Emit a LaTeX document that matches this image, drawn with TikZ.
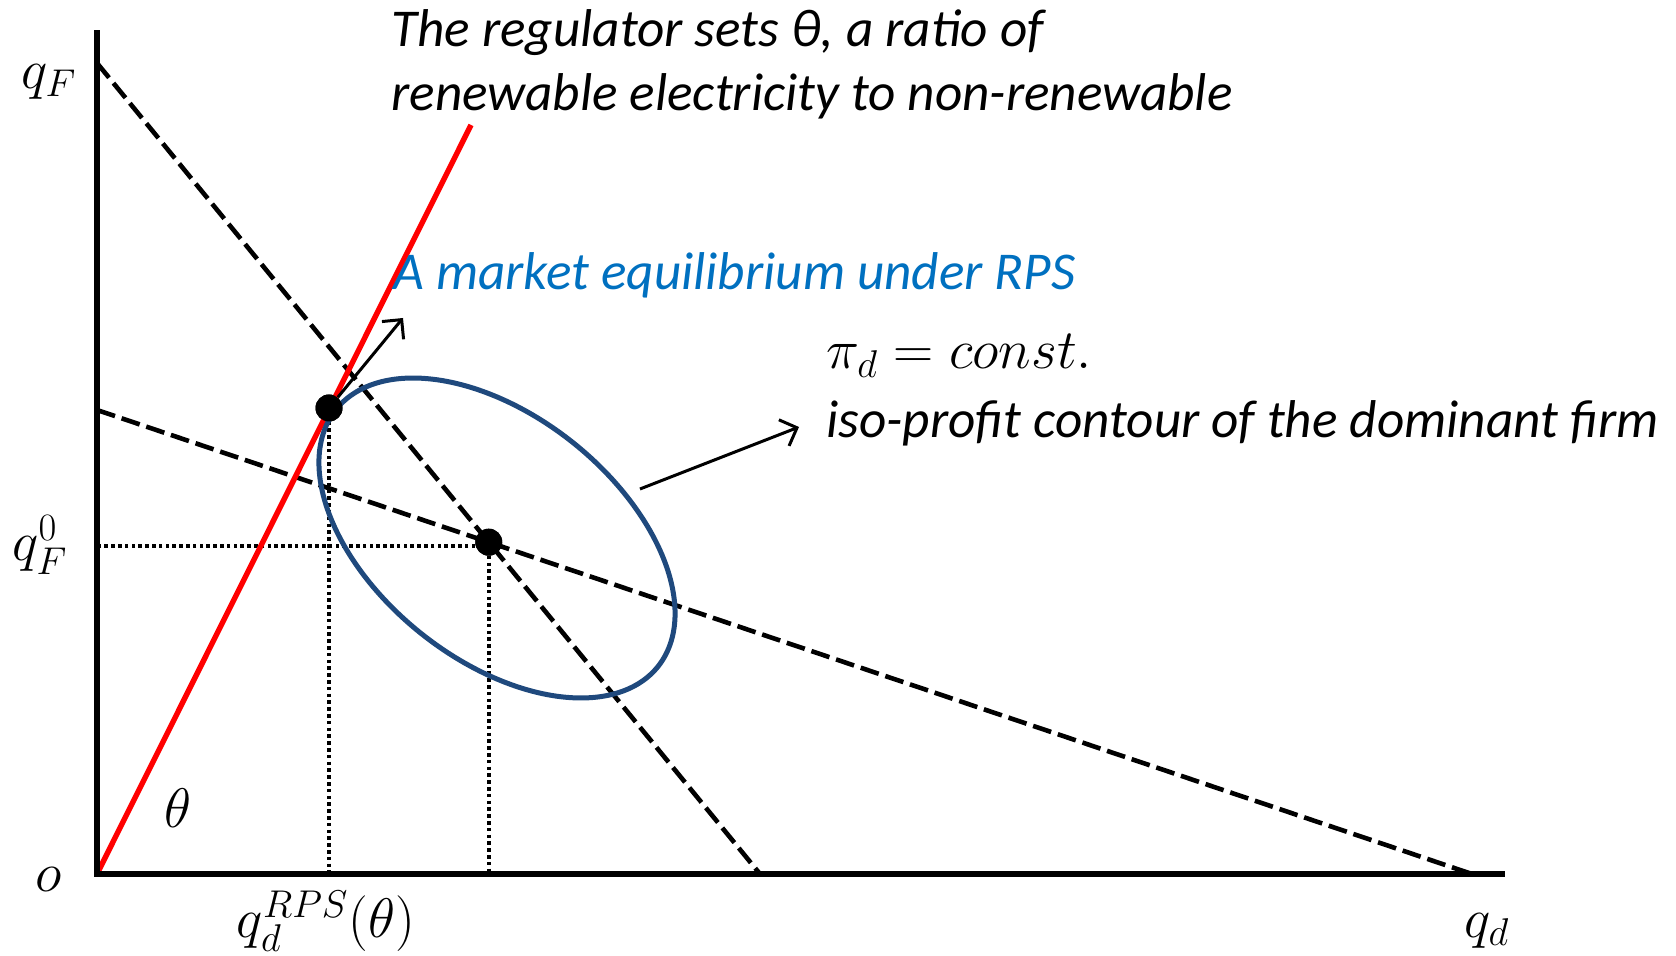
\documentclass[tikz,border=0pt]{standalone}
\usepackage{fontspec}
\setmainfont{Carlito}
\usetikzlibrary{arrows.meta}
\definecolor{rpsred}{RGB}{255,0,0}
\definecolor{eqblue}{RGB}{0,112,192}
\definecolor{contourblue}{RGB}{31,73,125}
\newcommand{\bigmath}[1]{\scalebox{1.12}{$#1$}}
\begin{document}
\begin{tikzpicture}[x=0.5pt,y=-0.5pt,
  axis/.style={line width=2.75pt, line cap=rect},
  guide/.style={line width=2.3pt, dash pattern=on 9.5pt off 3.5pt},
  dropline/.style={line width=1.9pt, dash pattern=on 1.8pt off 1.6pt},
  ratio/.style={line width=2.7pt, rpsred},
  contour/.style={line width=2.5pt, contourblue},
  eqpoint/.style={circle, fill=black, inner sep=0pt, minimum size=13.5pt},
  pointer/.style={line width=1.5pt, -{Straight Barb[length=7pt,width=14pt]}},
  lbl/.style={font=\fontsize{26.6}{31}\selectfont\itshape, inner sep=0pt},
  mathlbl/.style={font=\fontsize{26}{31}\selectfont, inner sep=0pt}]
\path[use as bounding box] (0,0) rectangle (1676,956);

% key coordinates
\coordinate (O) at (97,874);
\coordinate (ytop) at (97,33);
\coordinate (xend) at (1502,874);
\coordinate (A1) at (97,63);
\coordinate (A2) at (760,874);
\coordinate (B1) at (97,410);
\coordinate (B2) at (1472,874);
\coordinate (R2) at (471,125);

% equilibrium points
\node[eqpoint] (p2) at (intersection of A1--A2 and B1--B2) {};
\node[eqpoint] (p1) at (329,408) {};

% dotted drop lines
\draw[dropline] (p1.center) -- (p1.center |- O);
\draw[dropline] (p2.center) -- (p2.center |- O);
\draw[dropline] ([yshift=-2pt]p2.center) -- ([yshift=-2pt]p2.center -| O);

% dashed reaction lines
\draw[guide] (A1) -- (A2);
\draw[guide] (B1) -- (B2);

% RPS ratio line
\draw[ratio] (O) -- (R2);

% iso-profit contour
\draw[contour] plot[smooth cycle, domain=0:357.5, samples=144, variable=\t]
  ({497 + 161.0*cos(\t) - 76.1*sin(\t)}, {538 + 128.5*cos(\t) + 95.3*sin(\t)});

% axes
\draw[axis] (ytop) -- (O) -- (xend);

% redraw points on top
\node[eqpoint] at (p1) {};
\node[eqpoint] at (p2) {};

% pointers
\coordinate (eqtip) at (403,318);
\coordinate (ctail) at (640,489);
\coordinate (ctip) at (799,427);
\draw[pointer] (p1) -- (eqtip);
\draw[pointer] (ctail) -- (ctip);

% texts
\node[lbl, anchor=base west] (title1) at (391,47) {The regulator sets θ, a ratio of};
\node[lbl, anchor=base west] (title2) at (391,111) {renewable electricity to non-renewable};
\node[lbl, text=eqblue, anchor=base west] (eqlabel) at (393,290) {A market equilibrium under RPS};
\node[mathlbl, anchor=base west] (pilabel) at (826,369) {\bigmath{\pi_d = const.}};
\node[lbl, anchor=base west] (isolabel) at (826,438) {iso-profit contour of the dominant firm};

% axis labels
\node[mathlbl] (qF) at (49,82) {\bigmath{q_F}};
\node[mathlbl] (qF0) at (40,545) {\bigmath{q_F^0}};
\node[mathlbl] (olab) at (49,880) {\bigmath{o}};
\node[mathlbl] (thlab) at (178,808) {\bigmath{\theta}};
\node[mathlbl] (qdrps) at (326,921) {\bigmath{q_d^{RPS}(\theta)}};
\node[mathlbl] (qd) at (1487,931) {\bigmath{q_d}};
\end{tikzpicture}
\end{document}
